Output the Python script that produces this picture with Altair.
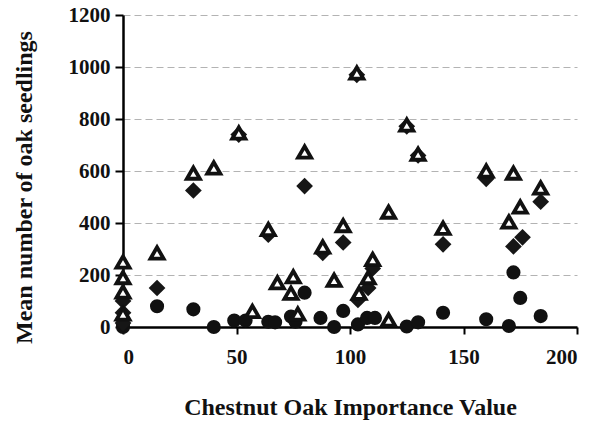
import altair as alt
import pandas as pd

# Open triangles
tri_x = [0, 0, 0, 0, 15, 31, 40, 51, 57, 64, 68, 74, 75, 77, 80, 88, 93, 97,
         103, 104, 108, 110, 117, 117, 125, 130, 141, 160, 170, 172, 175, 184]
tri_y = [250, 190, 135, 50, 285, 592, 612, 746, 60, 375, 170, 130, 193, 50, 673,
         308, 180, 390, 977, 130, 190, 260, 442, 27, 777, 665, 380, 600, 404, 592,
         462, 535]

# Filled diamonds
dia_x = [0, 0, 0, 15, 31, 51, 64, 80, 88, 97, 103, 103.5, 108, 110, 125, 130,
         141, 160, 172, 176, 184]
dia_y = [100, 55, 15, 150, 525, 740, 355, 542, 285, 325, 970, 104, 150, 225, 772,
         660, 318, 570, 310, 345, 482]

# Filled circles
cir_x = [0, 0, 15, 31, 40, 49, 54, 64, 67, 74, 76, 80, 87, 93, 97, 103.5, 107.5,
         111, 125, 130, 141, 160, 170, 172, 175, 184]
cir_y = [10, 0, 80, 68, 0, 25, 25, 20, 18, 40, 20, 132, 35, 0, 62, 10, 35, 35, 2,
         18, 55, 30, 4, 210, 112, 42]

x_ticks = [0, 50, 100, 150, 200]
y_ticks = [0, 200, 400, 600, 800, 1000, 1200]

FONT = "Liberation Serif"
INK = "#111111"

tri = pd.DataFrame({"x": tri_x, "y": tri_y})
dia = pd.DataFrame({"x": dia_x, "y": dia_y})
cir = pd.DataFrame({"x": cir_x, "y": cir_y})

x_enc = alt.X(
    "x:Q",
    scale=alt.Scale(domain=[0, 200], nice=False),
    axis=alt.Axis(
        values=x_ticks,
        format="d",
        title="Chestnut Oak Importance Value",
        grid=False,
        domainColor="black",
        domainWidth=2.5,
        tickColor="black",
        tickWidth=2,
        tickSize=7,
        labelPadding=12,
        labelFont=FONT,
        labelFontSize=21,
        labelFontWeight="bold",
        labelColor=INK,
        titleFont=FONT,
        titleFontSize=24,
        titleFontWeight="bold",
        titleColor=INK,
        titlePadding=28,
    ),
)
y_enc = alt.Y(
    "y:Q",
    scale=alt.Scale(domain=[0, 1200], nice=False),
    axis=alt.Axis(
        values=y_ticks,
        format="d",
        title="Mean number of oak seedlings",
        grid=True,
        gridColor="#b3b3b3",
        gridWidth=1,
        gridDash=[7, 4],
        domainColor="black",
        domainWidth=2.5,
        tickColor="black",
        tickWidth=2,
        tickSize=8,
        labelPadding=5,
        labelFont=FONT,
        labelFontSize=21,
        labelFontWeight="bold",
        labelColor=INK,
        titleFont=FONT,
        titleFontSize=24,
        titleFontWeight="bold",
        titleColor=INK,
        titleX=-99,
        titleY=172,
        titleBaseline="middle",
    ),
)

circles = alt.Chart(cir).mark_point(
    shape="circle", filled=True, size=200, color=INK, opacity=1, clip=False
).encode(x=x_enc, y=y_enc)

diamonds = alt.Chart(dia).mark_point(
    shape="diamond", filled=True, size=280, color="#161616", opacity=1, clip=False
).encode(x=x_enc, y=y_enc)

triangles = alt.Chart(tri).mark_point(
    shape="triangle-up", filled=True, size=170, fill="white", stroke=INK,
    strokeWidth=3.8, opacity=1, fillOpacity=1, strokeOpacity=1, clip=False
).encode(x=x_enc, y=y_enc)

chart = (
    alt.layer(circles, diamonds, triangles)
    .properties(
        width=454,
        height=312,
        autosize=alt.AutoSizeParams(type="none"),
        padding={"left": 123, "top": 15, "right": 30, "bottom": 96},
        background="white",
    )
    .configure_view(stroke=None)
)

chart.save("out.html", embed_options={"renderer": "svg", "actions": False})
